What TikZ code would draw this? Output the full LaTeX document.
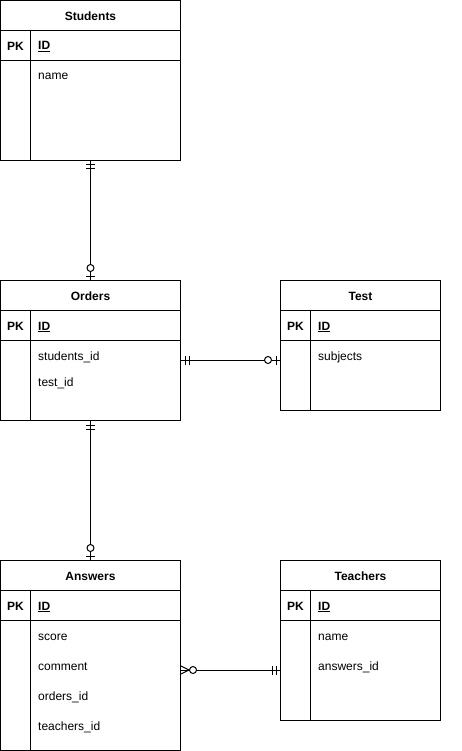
\documentclass[tikz,border=0pt]{standalone}
\usepackage{fontspec}
\setmainfont{Liberation Sans}
\usetikzlibrary{positioning,decorations.markings}

\tikzset{
    txt/.style={font=\fontsize{12}{14}\selectfont, inner sep=0pt, text height=10pt, text depth=0pt},
    bold/.style={font=\fontsize{12}{14}\selectfont\bfseries, inner sep=0pt, text height=10pt, text depth=0pt},
    cell/.style={draw, line width=1pt, anchor=north west, minimum height=30pt, inner sep=0pt},
    link/.style={draw, line width=1pt},
    % two bars near the start / end of a link
    mand one start/.style={postaction={decoration={markings,
        mark=at position 4pt with {\draw[line width=1pt] (0pt,-4.5pt) -- (0pt,4.5pt);},
        mark=at position 8pt with {\draw[line width=1pt] (0pt,-4.5pt) -- (0pt,4.5pt);}}, decorate}},
    mand one end/.style={postaction={decoration={markings,
        mark=at position -8pt with {\draw[line width=1pt] (0pt,-4.5pt) -- (0pt,4.5pt);},
        mark=at position -4pt with {\draw[line width=1pt] (0pt,-4.5pt) -- (0pt,4.5pt);}}, decorate}},
    % circle and bar
    zero one end/.style={postaction={decoration={markings,
        mark=at position -12pt with {\draw[line width=1pt, fill=white] (0pt,0pt) circle (3.5pt);},
        mark=at position -4pt with {\draw[line width=1pt] (0pt,-4.5pt) -- (0pt,4.5pt);}}, decorate}},
    % crow's foot and circle
    zero many start/.style={postaction={decoration={markings,
        mark=at position 8pt with {\draw[line width=1pt] (-8pt,4pt) -- (0pt,0pt) -- (-8pt,-4pt);},
        mark=at position 12pt with {\draw[line width=1pt, fill=white] (0pt,0pt) circle (3.5pt);}}, decorate}}
}

\begin{document}
\begin{tikzpicture}[x=1pt, y=-1pt]
\useasboundingbox (0,0) rectangle (461,751);

% Create the five tables
\foreach \tb/\x/\y/\w/\h/\head in {stu/0/0/180/100/Students, ord/0/280/180/80/Orders,
        tst/280/280/160/70/Test, ans/0/560/180/130/Answers, tch/280/560/160/100/Teachers} {
    \pgfmathsetmacro\rest{\w-30}

    % title row
    \node[cell, bold, minimum width=\w pt] (\tb title) at (\x,\y) {\head};

    % key row
    \node[cell, bold, minimum width=30pt] (\tb pk) at (\x,\y+30) {PK};
    \node[cell, minimum width=\rest pt] (\tb key) at (\x+30,\y+30) {};
    \node[bold, anchor=west] (\tb id) at (\x+38,\y+45) {\underline{ID}};

    % and the body
    \node[cell, minimum width=30pt, minimum height=\h pt] (\tb side) at (\x,\y+60) {};
    \node[cell, minimum width=\rest pt, minimum height=\h pt] (\tb body) at (\x+30,\y+60) {};
}

% Here are the fields
\foreach \x/\y/\txt [count=\n] in {0/75/name, 0/355/students\_id, 0/381/test\_id,
        280/355/subjects, 0/635/score, 0/665/comment, 0/695/orders\_id, 0/725/teachers\_id,
        280/635/name, 280/665/answers\_id} {
    \node[txt, anchor=west] (field\n) at (\x+38,\y) {\txt};
}

% and the relations
\draw[link, mand one start, zero one end] (stuside.south -| stutitle.south) -- (ordtitle.north);
\draw[link, mand one start, zero one end] ([yshift=-20pt]ordbody.north east) -- ([yshift=-20pt]tstside.north west);
\draw[link, mand one start, zero one end] (ordside.south -| ordtitle.south) -- (anstitle.north);
\draw[link, zero many start, mand one end] ([yshift=-50pt]ansbody.north east) -- ([yshift=-50pt]tchside.north west);
\end{tikzpicture}
\end{document}
